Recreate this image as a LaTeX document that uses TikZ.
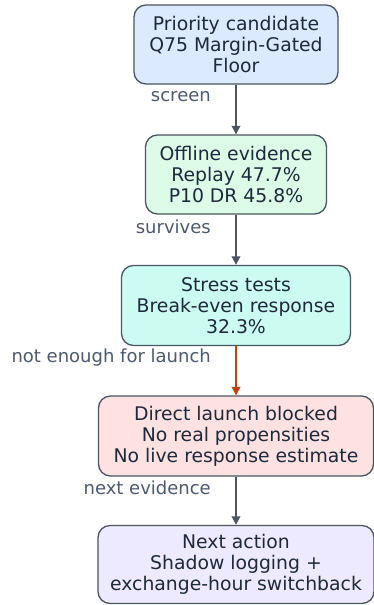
\documentclass[tikz,border=0pt]{standalone}
\usepackage{fontspec}
\setmainfont{DejaVu Sans}
\usetikzlibrary{arrows.meta}
\definecolor{edge}{HTML}{4B5563}
\definecolor{txt}{HTML}{1E293B}
\definecolor{lbl}{HTML}{4B5A6E}
\definecolor{redarr}{HTML}{C2410C}
\definecolor{fa}{HTML}{DBEAFE}
\definecolor{fb}{HTML}{DCFCE7}
\definecolor{fc}{HTML}{CCFBF1}
\definecolor{fd}{HTML}{FEE2E2}
\definecolor{fe}{HTML}{EDE9FE}
\tikzset{
  box/.style={draw=edge, line width=1.3pt, rounded corners=12pt, align=center,
    text=txt, font=\fontsize{18.8}{21}\selectfont, inner sep=0pt},
  conn/.style={draw=edge, line width=1.8pt, -{Stealth[length=8.5pt,width=8.5pt,inset=0pt]}},
  lab/.style={text=lbl, font=\fontsize{18}{21}\selectfont, anchor=east, inner sep=0pt}
}
\begin{document}
\begin{tikzpicture}[x=1pt,y=1pt]
\useasboundingbox (0,0) rectangle (374,-605);
\node[box, fill=fa, minimum width=204pt, minimum height=79pt] (a) at (236,-44.5) {Priority candidate\\Q75 Margin-Gated\\Floor};
\node[box, fill=fb, minimum width=181pt, minimum height=79pt] (b) at (236,-174.5) {Offline evidence\\Replay 47.7\%\\P10 DR 45.8\%};
\node[box, fill=fc, minimum width=229pt, minimum height=80pt] (c) at (236,-305.5) {Stress tests\\Break-even response\\32.3\%};
\node[box, fill=fd, minimum width=275pt, minimum height=80pt] (d) at (236,-436) {Direct launch blocked\\No real propensities\\No live response estimate};
\node[box, fill=fe, minimum width=276pt, minimum height=78pt] (e) at (236,-564.5) {Next action\\Shadow logging +\\exchange-hour switchback};
\draw[conn] (a.south) -- (b.north);
\draw[conn] (b.south) -- (c.north);
\draw[conn, draw=redarr] (c.south) -- (d.north);
\draw[conn] (d.south) -- (e.north);
\node[lab] (la) at (211,-97) {screen};
\node[lab] (lb) at (211,-227) {survives};
\node[lab] (lc) at (211,-358) {not enough for launch};
\node[lab] (ld) at (211,-488) {next evidence};
\end{tikzpicture}
\end{document}
